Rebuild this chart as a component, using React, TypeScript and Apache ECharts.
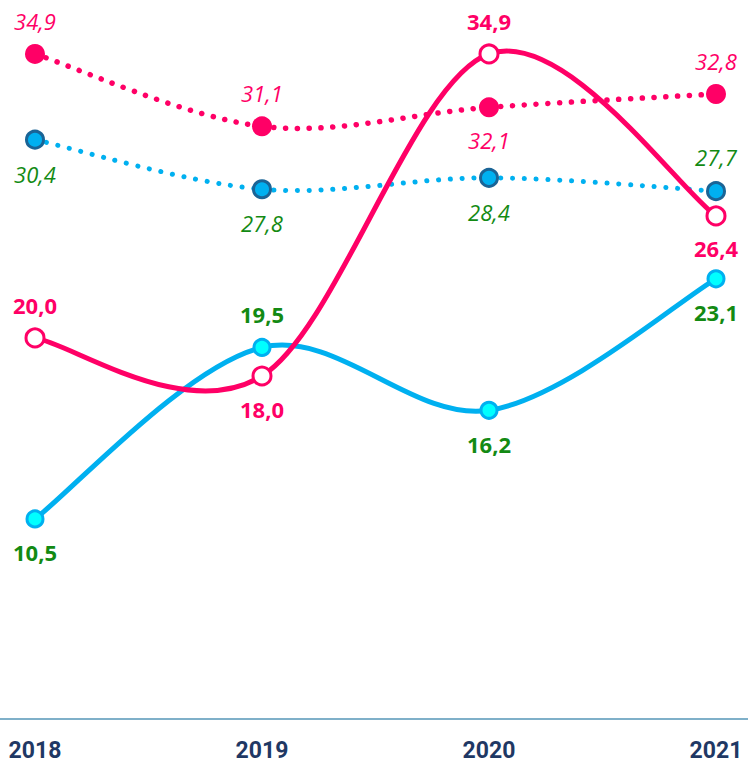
import React, { useEffect, useRef } from "react";
import * as echarts from "echarts";

const years = ["2018", "2019", "2020", "2021"];
const pinkSolid = [20.0, 18.0, 34.9, 26.4];
const cyanSolid = [10.5, 19.5, 16.2, 23.1];
const pinkDotted = [34.9, 31.1, 32.1, 32.8];
const blueDotted = [30.4, 27.8, 28.4, 27.7];

const pinkSolidPos = ["top", "bottom", "top", "bottom"];
const cyanSolidPos = ["bottom", "top", "bottom", "bottom"];
const pinkDottedPos = ["top", "top", "bottom", "top"];
const blueDottedPos = ["bottom", "bottom", "bottom", "top"];

const PINK = "#FF0066";
const CYAN = "#00B0F0";
const GREEN = "#138A13";
const FONT = "'Open Sans', sans-serif";

const fmt = (v: number) => v.toFixed(1).replace(".", ",");

function mkData(vals: number[], pos: string[], dist: number) {
  return vals.map((v, i) => ({
    value: v,
    label: { position: pos[i], distance: dist },
  }));
}

// Smooth curve (Catmull-Rom style, 1/6 tangents) drawn segment by segment
function curveSeries(vals: number[], color: string, width: number, dotted: boolean, z: number) {
  const n = vals.length;
  return {
    type: "custom",
    coordinateSystem: "cartesian2d",
    xAxisIndex: 0,
    yAxisIndex: 0,
    clip: false,
    silent: true,
    z,
    data: vals.map((v, i) => [i, v]),
    renderItem: (params: any, api: any) => {
      const i = params.dataIndex;
      if (i >= n - 1) return { type: "group", children: [] };
      const pts = vals.map((v, j) => api.coord([j, v]));
      const p0 = pts[i];
      const p1 = pts[i + 1];
      const pp = pts[Math.max(i - 1, 0)];
      const pn = pts[Math.min(i + 2, n - 1)];
      return {
        type: "bezierCurve",
        shape: {
          x1: p0[0],
          y1: p0[1],
          x2: p1[0],
          y2: p1[1],
          cpx1: p0[0] + (p1[0] - pp[0]) / 6,
          cpy1: p0[1] + (p1[1] - pp[1]) / 6,
          cpx2: p1[0] - (pn[0] - p0[0]) / 6,
          cpy2: p1[1] - (pn[1] - p0[1]) / 6,
        },
        style: {
          stroke: color,
          fill: null,
          lineWidth: width,
          lineCap: "round",
          lineDash: dotted ? [0.1, 11.7] : null,
        },
      };
    },
  };
}

export default function App() {
  const ref = useRef<HTMLDivElement>(null);
  useEffect(() => {
    if (!ref.current) return;
    const chart = echarts.init(ref.current, null, { renderer: "svg" });
    const labelBase = (color: string, italic: boolean) => ({
      show: true,
      formatter: (p: any) => fmt(p.value),
      color,
      fontFamily: FONT,
      fontSize: 22,
      fontStyle: italic ? "italic" : "normal",
      fontWeight: italic ? "normal" : "bold",
    });
    const markerCommon = {
      type: "line",
      xAxisIndex: 0,
      yAxisIndex: 0,
      symbol: "circle",
      lineStyle: { opacity: 0, width: 0 },
    };
    chart.setOption({
      animation: false,
      backgroundColor: "#ffffff",
      grid: [
        { left: 35, right: 32, top: 33, bottom: 44 },
        { left: 0, right: 0, top: 33, bottom: 44 },
      ],
      xAxis: [
        {
          type: "category",
          data: years,
          boundaryGap: false,
          gridIndex: 0,
          axisLine: { show: false },
          axisTick: { show: false },
          axisLabel: {
            color: "#1F3864",
            fontFamily: "Roboto, sans-serif",
            fontWeight: "bold",
            fontSize: 23,
            margin: 20,
          },
          splitLine: { show: false },
        },
        {
          type: "category",
          data: years,
          gridIndex: 1,
          axisLine: { show: true, lineStyle: { color: "#7FB0C9", width: 2 } },
          axisTick: { show: false },
          axisLabel: { show: false },
          splitLine: { show: false },
        },
      ],
      yAxis: [
        { type: "value", min: 0, max: 36, show: false, gridIndex: 0, splitLine: { show: false } },
        { type: "value", min: 0, max: 36, show: false, gridIndex: 1, splitLine: { show: false } },
      ],
      series: [
        curveSeries(blueDotted, CYAN, 5, true, 2),
        {
          ...markerCommon,
          data: mkData(blueDotted, blueDottedPos, 13),
          symbolSize: 17,
          itemStyle: { color: CYAN, borderColor: "#1A6496", borderWidth: 3 },
          label: labelBase(GREEN, true),
          z: 3,
        },
        curveSeries(pinkDotted, PINK, 5.5, true, 4),
        {
          ...markerCommon,
          data: mkData(pinkDotted, pinkDottedPos, 12),
          symbolSize: 20,
          itemStyle: { color: PINK, borderWidth: 0 },
          label: labelBase(PINK, true),
          z: 5,
        },
        curveSeries(cyanSolid, CYAN, 5, false, 6),
        {
          ...markerCommon,
          data: mkData(cyanSolid, cyanSolidPos, 13),
          symbolSize: 16,
          itemStyle: { color: "#00FFFF", borderColor: CYAN, borderWidth: 3 },
          label: labelBase(GREEN, false),
          z: 7,
        },
        curveSeries(pinkSolid, PINK, 5, false, 8),
        {
          ...markerCommon,
          data: mkData(pinkSolid, pinkSolidPos, 11),
          symbolSize: 18,
          itemStyle: { color: "#FFFFFF", borderColor: PINK, borderWidth: 3 },
          label: labelBase(PINK, false),
          z: 9,
        },
      ],
    });
    return () => chart.dispose();
  }, []);
  return (
    <div
      ref={ref}
      style={{ position: "absolute", left: 0, top: 0, width: 748, height: 763 }}
    />
  );
}
